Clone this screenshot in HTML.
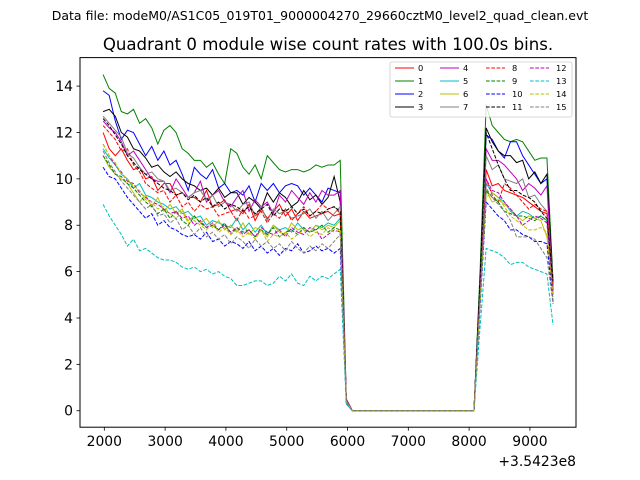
<!DOCTYPE html>
<html><head><meta charset="utf-8">
<style>
body{margin:0;background:#fff;}
svg{display:block;font-family:"DejaVu Sans","Liberation Sans",sans-serif;}
</style></head>
<body>
<svg id="chart" width="640" height="480" viewBox="0 0 640 480">
<rect x="0" y="0" width="640" height="480" fill="#fff"/>
<text x="320" y="20" font-size="12.5" text-anchor="middle">Data file: modeM0/AS1C05_019T01_9000004270_29660cztM0_level2_quad_clean.evt</text>
<text x="328" y="50" font-size="16.6" text-anchor="middle">Quadrant 0 module wise count rates with 100.0s bins.</text>
<defs><clipPath id="clip"><rect x="80" y="57.6" width="496" height="369.6"/></clipPath></defs>
<g id="series" clip-path="url(#clip)"></g>
<rect x="80" y="57.6" width="496" height="369.6" fill="none" stroke="#000" stroke-width="1"/>
<g id="axes"></g>
<text x="576" y="466" font-size="13.9" text-anchor="end">+3.5423e8</text>
<g id="legend"></g>
</svg>
<script>
const xTicks=[2000,3000,4000,5000,6000,7000,8000,9000];
const yTicks=[0,2,4,6,8,10,12,14];
const seriesLabels=["0","1","2","3","4","5","6","7","8","9","10","11","12","13","14","15"];
const colors=["#ff0000","#008000","#0000ff","#000000","#bf00bf","#00bfbf","#bfbf00","#808080","#ff0000","#008000","#0000ff","#000000","#bf00bf","#00bfbf","#bfbf00","#808080"];
const tStart=1980, tStep=100;
const segA=[
[12.0,11.3,11.0,11.3,10.8,10.4,10.5,10.0,10.1,9.5,9.8,9.8,9.3,9.4,9.2,9.2,9.0,9.5,8.8,8.9,9.1,8.6,8.7,8.5,8.9,8.2,8.7,8.3,8.6,8.9,8.4,8.7,8.2,8.6,8.3,8.4,8.5,8.6,8.4,8.5],
[14.5,13.9,13.7,12.9,12.8,13.0,12.4,12.6,12.2,11.5,12.1,12.3,12.0,11.3,11.1,10.8,10.8,10.5,10.7,10.2,9.8,11.3,11.1,10.5,10.2,10.6,10.0,11.0,10.7,10.4,10.3,10.4,10.4,10.3,10.4,10.6,10.5,10.6,10.6,10.8],
[13.8,13.6,12.5,11.7,12.1,12.0,11.5,11.0,11.4,10.8,11.2,10.6,10.8,10.2,9.5,10.5,10.2,10.0,10.4,9.6,9.8,9.4,9.5,9.3,9.7,9.0,9.8,9.5,9.8,9.4,9.7,9.8,9.7,9.3,9.6,9.3,9.0,9.6,9.5,9.4],
[12.9,13.0,12.7,12.0,11.8,11.3,11.2,10.9,10.5,10.6,10.3,10.1,10.3,10.0,9.8,9.7,9.5,9.6,9.3,9.6,9.2,9.4,9.4,8.9,9.2,9.0,8.7,9.4,9.0,9.4,9.2,8.8,9.0,9.5,9.1,9.3,8.9,9.2,10.1,9.0],
[12.5,12.2,12.0,11.6,11.0,11.2,10.8,10.4,10.0,9.9,9.9,9.4,10.0,9.6,9.2,9.4,9.9,9.0,9.3,9.5,9.0,8.8,9.2,9.5,8.6,9.1,8.8,9.0,8.5,9.3,9.0,9.5,9.2,8.9,9.4,9.0,9.5,9.3,9.3,9.5],
[11.3,10.9,10.6,10.2,10.0,9.6,9.8,9.3,9.2,9.0,8.9,8.7,8.8,8.5,8.6,8.3,8.4,8.0,8.2,8.1,8.0,7.9,8.3,7.8,8.1,7.7,8.0,7.6,8.0,7.8,7.9,7.7,8.1,7.8,7.7,8.0,7.9,8.1,8.0,8.3],
[11.0,10.5,10.2,10.0,9.8,9.4,9.0,9.3,8.8,9.2,8.6,8.9,8.5,8.7,8.2,8.4,8.1,8.3,7.9,8.2,7.8,8.0,7.7,8.1,7.6,7.9,7.8,7.5,8.0,7.7,7.6,8.1,7.8,7.9,7.7,8.0,7.8,8.0,7.9,8.2],
[12.7,12.4,12.1,11.8,11.1,10.9,10.5,10.2,10.3,10.0,9.9,9.5,9.6,9.4,9.2,9.4,9.5,9.1,9.3,8.8,9.0,8.9,8.6,8.9,9.0,8.4,8.8,8.2,8.7,8.5,8.6,8.3,8.4,8.5,8.7,8.3,8.6,8.2,8.5,8.8],
[12.3,12.0,11.7,11.2,11.3,10.6,10.3,9.8,9.6,9.4,9.5,9.0,9.3,8.8,9.0,8.6,8.9,8.7,8.8,8.4,8.5,8.6,8.2,8.7,8.3,8.4,8.6,8.1,8.5,8.3,8.7,8.2,8.5,8.8,8.4,8.6,8.9,8.7,8.8,8.5],
[11.0,10.6,10.2,10.1,9.8,9.6,9.3,9.0,8.8,8.5,8.7,8.3,8.6,8.2,8.0,8.4,8.1,7.9,8.0,7.8,8.1,7.6,7.9,7.7,7.8,7.5,7.8,7.6,7.9,7.5,7.7,7.8,7.6,7.9,7.7,7.8,8.0,7.7,7.9,7.8],
[10.5,10.1,10.0,9.6,9.2,8.9,8.6,8.3,8.5,8.0,8.2,7.9,7.8,7.6,7.5,7.6,7.4,7.7,7.3,7.4,7.1,7.3,7.2,7.0,7.3,6.9,7.1,6.8,7.0,6.7,7.0,6.9,7.2,6.8,6.9,7.1,6.9,7.0,6.8,7.0],
[12.6,12.3,11.9,11.5,11.0,10.7,10.4,10.2,10.0,9.8,9.6,9.5,9.3,9.4,9.1,9.3,9.0,9.2,8.8,9.0,8.7,8.9,8.8,8.6,8.8,8.5,8.7,8.9,8.4,8.7,8.6,8.8,8.5,8.7,8.4,8.6,8.5,8.7,8.8,8.6],
[11.5,11.0,10.6,10.3,9.9,9.8,9.4,9.2,9.0,8.9,8.7,8.5,8.6,8.3,8.4,8.0,8.2,7.9,8.1,7.8,8.0,7.7,7.9,7.6,7.8,7.5,7.9,7.7,7.6,7.8,7.5,7.9,7.7,7.6,7.9,7.8,7.4,7.6,7.8,7.7],
[8.9,8.4,8.0,7.6,7.1,7.4,6.9,7.0,6.8,6.6,6.5,6.5,6.4,6.2,6.1,6.2,6.0,6.1,5.9,6.0,5.8,5.7,5.4,5.4,5.5,5.6,5.6,5.4,5.5,5.8,5.6,5.9,5.5,5.4,5.8,5.6,5.8,5.7,5.9,6.1],
[11.5,11.0,10.7,10.2,10.0,9.7,9.5,9.1,9.0,8.7,8.8,8.5,8.3,8.6,8.1,8.2,8.0,7.8,8.1,7.7,7.9,7.6,7.8,7.5,7.7,7.4,7.8,7.3,7.6,7.5,7.7,7.4,7.6,7.8,7.5,7.7,7.6,7.9,7.7,7.8],
[11.2,10.7,10.3,9.9,9.6,9.3,9.0,8.7,8.9,8.4,8.5,8.1,8.3,7.8,8.0,7.6,7.9,7.5,7.7,7.4,7.6,7.2,7.5,7.3,7.0,7.4,7.1,7.3,7.0,7.2,6.9,7.3,7.0,6.8,7.1,6.9,7.2,7.0,7.3,7.6]
];
const dropVals=[0.4,0.5,0.4,0.4,0.5,0.3,0.4,0.4,0.5,0.4,0.3,0.4,0.4,0.3,0.4,0.4];
const offBins=21;
const offValue=0;
const segB=[
[5.0,10.4,9.7,9.8,9.5,9.4,9.3,9.2,9.0,8.8,8.6,8.5,5.5],
[6.0,13.2,12.3,12.0,11.7,11.6,11.7,11.6,11.2,10.8,10.9,10.9,5.6],
[5.5,11.9,11.7,11.2,10.9,11.6,11.6,11.0,10.6,10.2,9.8,10.0,5.2],
[5.6,12.2,11.6,11.2,11.0,11.0,10.7,10.8,10.0,10.3,9.8,10.2,5.5],
[5.2,11.3,10.8,10.8,10.6,10.3,10.0,9.5,9.8,9.6,9.3,9.7,5.0],
[4.8,9.8,9.4,9.2,9.0,8.6,8.4,8.6,8.5,8.3,8.4,8.2,5.3],
[4.7,9.5,9.0,9.1,8.9,8.7,8.4,8.2,8.4,8.3,8.2,7.5,5.0],
[5.3,11.0,10.4,10.6,10.0,9.9,9.8,10.0,9.2,9.3,8.9,8.6,5.7],
[5.0,10.0,9.3,9.0,9.8,9.6,9.3,9.0,8.7,8.9,8.7,8.6,5.4],
[4.8,9.5,9.2,9.0,8.6,8.5,8.4,8.4,8.3,8.2,8.4,8.2,5.2],
[4.5,9.0,8.7,8.4,8.2,7.8,7.8,7.6,7.5,7.3,7.3,7.2,4.7],
[5.6,12.0,11.3,10.6,10.0,9.5,9.5,9.3,9.2,9.0,8.6,8.3,5.6],
[5.0,10.0,9.5,9.4,9.0,8.7,8.4,8.0,8.2,8.4,8.3,8.1,5.0],
[3.6,7.0,6.9,6.8,6.6,6.3,6.4,6.4,6.2,6.1,6.0,5.9,3.7],
[4.7,9.2,9.4,9.2,8.8,8.4,8.2,8.0,7.8,7.8,7.9,7.7,4.9],
[4.8,9.6,9.2,8.9,8.6,8.2,7.5,7.5,7.5,7.4,7.0,6.6,4.6]
];
const NS="http://www.w3.org/2000/svg";
const X0=80,X1=576,Y0=57.6,Y1=427.2;
const xMin=1600,xMax=9758,yMin=-0.71,yMax=15.23;
function xs(v){return X0+(v-xMin)/(xMax-xMin)*(X1-X0);}
function ys(v){return Y1-(v-yMin)/(yMax-yMin)*(Y1-Y0);}
function mk(tag,attrs,parent){const e=document.createElementNS(NS,tag);for(const k in attrs)e.setAttribute(k,attrs[k]);parent.appendChild(e);return e;}
const axes=document.getElementById('axes');
xTicks.forEach(t=>{
  const l=mk('line',{x1:xs(t),x2:xs(t),y1:Y1,y2:Y1+3.5,stroke:'#000','stroke-width':0.8},axes);
  
  
  const tx=mk('text',{x:xs(t),y:Y1+19,'font-size':13.9,'text-anchor':'middle'},axes);
  tx.textContent=t;
  
  
});
yTicks.forEach(t=>{
  const l=mk('line',{x1:X0-3.5,x2:X0,y1:ys(t),y2:ys(t),stroke:'#000','stroke-width':0.8},axes);
  
  
  const tx=mk('text',{x:X0-7,y:ys(t)+5,'font-size':13.9,'text-anchor':'end'},axes);
  tx.textContent=t;
  
  
});
const sg=document.getElementById('series');
for(let k=0;k<16;k++){
  const vals=segA[k].concat([dropVals[k]],new Array(offBins).fill(offValue),segB[k]);
  const pts=vals.map((v,i)=>xs(tStart+i*tStep).toFixed(2)+','+ys(v).toFixed(2)).join(' ');
  const attrs={points:pts,fill:'none',stroke:colors[k],'stroke-width':1};
  if(k>=8)attrs['stroke-dasharray']='3.7,1.6';
  const p=mk('polyline',attrs,sg);
  
  
}
const lg=document.getElementById('legend');
const lb=mk('rect',{x:390,y:62,width:182,height:55,rx:2,fill:'#fff','fill-opacity':0.8,stroke:'#ccc','stroke-width':0.8},lg);


const colX=[395,440,486,530], rowY=[68,81,94,107];
for(let k=0;k<16;k++){
  const c=Math.floor(k/4),r=k%4;
  const la={x1:colX[c],x2:colX[c]+19,y1:rowY[r],y2:rowY[r],stroke:colors[k],'stroke-width':1};
  if(k>=8)la['stroke-dasharray']='3.7,1.6';
  const l=mk('line',la,lg);
  
  
  const t=mk('text',{x:colX[c]+(k>=8?26:23),y:rowY[r]+3,'font-size':8.3},lg);
  t.textContent=seriesLabels[k];
  
  
}
</script>
</body></html>
